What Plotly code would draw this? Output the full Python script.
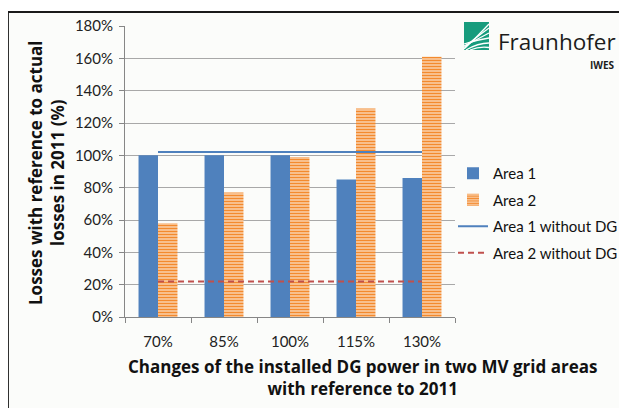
import plotly.graph_objects as go

categories = ["70%", "85%", "100%", "115%", "130%"]
area1 = [100, 100, 100, 85, 86]
area2 = [58, 77, 99, 129, 161]
area1_no_dg = [102, 102, 102, 102, 102]
area2_no_dg = [22, 22, 22, 22, 22]
y_ticks = [0, 20, 40, 60, 80, 100, 120, 140, 160, 180]
y_tick_labels = ["0%", "20%", "40%", "60%", "80%", "100%", "120%", "140%", "160%", "180%"]

# page is shown with an 8px body margin; positions below are page pixels
PAGE_W, PAGE_H, OFF = 627, 408, 8
W, H = PAGE_W - OFF, PAGE_H - OFF
L, R, T, B = 125, 455, 26, 317
FONT = "Lato"
TFONT = "Open Sans"


def px(x):
    return (x - L) / (R - L)


def py(y):
    return (B - y) / (B - T)


fig = go.Figure()
fig.add_trace(go.Bar(
    x=categories, y=area1, name="Area 1", legendgroup="a",
    marker=dict(color="#4f81bd", line=dict(width=0)),
))
fig.add_trace(go.Bar(
    x=categories, y=area2, name="Area 2", legendgroup="b",
    marker=dict(color="#ffffff", line=dict(width=0),
                pattern=dict(shape="-", fgcolor="#f38a2e", bgcolor="#ffffff",
                             size=3, solidity=0.7, fillmode="replace")),
))
fig.add_trace(go.Scatter(
    x=categories, y=area1_no_dg, name="Area 1 without DG", legendgroup="c",
    mode="lines", line=dict(color="#4f81bd", width=2),
))
fig.add_trace(go.Scatter(
    x=categories, y=area2_no_dg, name="Area 2 without DG", legendgroup="d",
    mode="lines", line=dict(color="#c0504d", width=2, dash="6px,4px"),
))

shapes = []
# outer frame
shapes.append(dict(type="rect", xref="paper", yref="paper",
                   x0=px(8), x1=px(640), y0=py(420), y1=py(12),
                   line=dict(color="#1a1a1a", width=1.8), fillcolor="#fbfcfa",
                   layer="below"))
# logo icon
shapes.append(dict(type="rect", xref="paper", yref="paper",
                   x0=px(464), x1=px(489), y0=py(50), y1=py(22),
                   line=dict(width=0), fillcolor="#179c7d", layer="above"))
curves = [
    ((464, 49), (476, 38), (489, 24)),
    ((464, 47.5), (478, 36), (489, 28)),
    ((464, 46), (478, 39), (489, 33)),
    ((464, 44), (476, 40), (489, 38)),
    ((466, 50), (478, 43), (489, 43)),
    ((470, 50), (480, 46), (489, 47.5)),
]
for (x0, y0), (cx, cy), (x1, y1) in curves:
    path = "M {} {} Q {} {} {} {}".format(px(x0), py(y0), px(cx), py(cy), px(x1), py(y1))
    shapes.append(dict(type="path", xref="paper", yref="paper", path=path,
                       line=dict(color="#ffffff", width=1.3), layer="above"))

annotations = [
    dict(text="Fraunhofer", xref="paper", yref="paper", x=px(496), y=py(41),
         xanchor="left", yanchor="middle", showarrow=False,
         font=dict(family="Open Sans", size=22.5, color="#1c1c1c")),
    dict(text="<b>IWES</b>", xref="paper", yref="paper", x=px(617), y=py(65),
         xanchor="right", yanchor="middle", showarrow=False,
         font=dict(family="Open Sans", size=10, color="#1c1c1c")),
    dict(text="<b>Changes of the installed DG power in two MV grid areas<br>with reference to 2011</b>",
         xref="paper", yref="paper", x=px(362), y=py(377),
         xanchor="center", yanchor="middle", showarrow=False,
         font=dict(family=TFONT, size=17, color="#111111")),
    dict(text="<b>Losses with reference to actual<br>losses in 2011 (%)</b>",
         xref="paper", yref="paper", x=px(46), y=py(173), textangle=-90,
         xanchor="center", yanchor="middle", showarrow=False,
         font=dict(family=TFONT, size=17, color="#111111")),
]

fig.update_layout(
    width=W, height=H,
    margin=dict(l=L - OFF, r=PAGE_W - R, t=T - OFF, b=PAGE_H - B, pad=0, autoexpand=False),
    paper_bgcolor="#ffffff", plot_bgcolor="rgba(0,0,0,0)",
    barmode="group", bargap=0.41, bargroupgap=0,
    font=dict(family=FONT, size=14, color="#222222"),
    showlegend=True,
    legend=dict(x=px(453), y=py(157), xanchor="left", yanchor="top",
                bgcolor="rgba(0,0,0,0)", font=dict(family=FONT, size=15, color="#111111"),
                traceorder="grouped", tracegroupgap=4, itemwidth=30),
    shapes=shapes, annotations=annotations,
)
fig.update_xaxes(
    type="category", showgrid=False, showline=True, linecolor="#868686", linewidth=1,
    ticks="outside", tickson="boundaries", ticklen=5, tickcolor="#868686",
    ticklabelstandoff=11,
    tickfont=dict(family=FONT, size=15, color="#222222"),
)
fig.update_yaxes(
    range=[0, 180], tickvals=y_ticks, ticktext=y_tick_labels,
    showgrid=True, gridcolor="#a8a8a8", gridwidth=1, zeroline=False,
    showline=True, linecolor="#868686", linewidth=1,
    ticks="outside", ticklen=5, tickcolor="#868686",
    ticklabelstandoff=3,
    tickfont=dict(family=FONT, size=15, color="#222222"),
)

fig.write_html("out.html")
